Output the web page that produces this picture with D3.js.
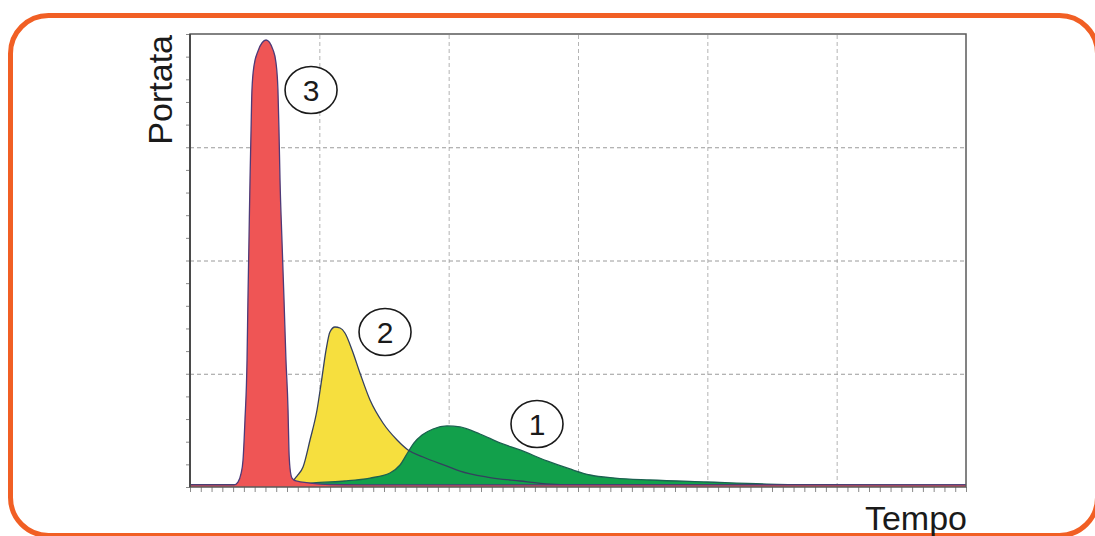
<!DOCTYPE html>
<html>
<head>
<meta charset="utf-8">
<script src="https://cdn.jsdelivr.net/npm/d3@7"></script>
<style>
  html, body { margin: 0; padding: 0; background: #fff; }
  svg { display: block; }
</style>
</head>
<body>
<svg id="chart" width="1095" height="536"></svg>
<script>
// Hydrographs: discharge (Portata) against time (Tempo) for three catchment responses.
// Time in grid units (0–6), discharge in grid units (0–4).
const curve3 = [
  [0, 0.018], [0.340, 0.018], [0.371, 0.044], [0.394, 0.115], [0.410, 0.238],
  [0.425, 0.592], [0.441, 1.121], [0.448, 1.651], [0.456, 2.181], [0.464, 2.711],
  [0.472, 3.152], [0.479, 3.506], [0.495, 3.720], [0.526, 3.850], [0.588, 3.947],
  [0.642, 3.860], [0.665, 3.745], [0.680, 3.506], [0.688, 3.152], [0.696, 2.711],
  [0.711, 2.181], [0.727, 1.651], [0.742, 1.121], [0.758, 0.680], [0.765, 0.327],
  [0.773, 0.168], [0.789, 0.079], [0.820, 0.053], [0.928, 0.035], [1.082, 0.022],
  [1.314, 0.018], [6, 0.018]
];

const curve2 = [
  [0, 0.018], [0.758, 0.018], [0.789, 0.044], [0.827, 0.097], [0.874, 0.177],
  [0.928, 0.415], [0.982, 0.680], [1.021, 0.971], [1.052, 1.210], [1.082, 1.369],
  [1.121, 1.413], [1.160, 1.404], [1.198, 1.360], [1.253, 1.210], [1.314, 1.007],
  [1.392, 0.768], [1.492, 0.565], [1.601, 0.415], [1.686, 0.327], [1.802, 0.265],
  [1.987, 0.185], [2.088, 0.141], [2.297, 0.088], [2.552, 0.053], [2.784, 0.026],
  [3.016, 0.018], [6, 0.018]
];

const curve1 = [
  [0, 0.018], [0.696, 0.018], [0.851, 0.026], [1.005, 0.040], [1.198, 0.053],
  [1.392, 0.079], [1.546, 0.124], [1.624, 0.194], [1.686, 0.309], [1.732, 0.389],
  [1.794, 0.459], [1.879, 0.512], [1.987, 0.539], [2.088, 0.530], [2.242, 0.468],
  [2.397, 0.389], [2.552, 0.327], [2.760, 0.230], [2.938, 0.159], [3.093, 0.106],
  [3.286, 0.079], [3.557, 0.062], [3.998, 0.044], [4.461, 0.026], [4.972, 0.018],
  [5.490, 0.013], [6, 0.009]
];

// Circled curve numbers, placed in data coordinates
const curveLabels = [
  { text: "3", t: 0.936, q: 3.506 },
  { text: "2", t: 1.508, q: 1.369 },
  { text: "1", t: 2.683, q: 0.556 }
];

const axisTitles = { x: "Tempo", y: "Portata" };

const xMajor = d3.range(0, 7, 1);
const yMajor = d3.range(0, 5, 1);
const xMinor = d3.range(0, 72 + 1).map(i => i / 12);
const yMinor = d3.range(0, 20 + 1).map(i => i / 5);

const svg = d3.select("#chart");
const W = 1095, H = 536;
const margin = { left: 190, right: W - 966, top: 34, bottom: H - 487 };
const iw = W - margin.left - margin.right;
const ih = H - margin.top - margin.bottom;

// Rounded orange frame around the whole figure
svg.append("rect")
  .attr("x", 10.5).attr("y", 15.5)
  .attr("width", 1087).attr("height", 520)
  .attr("rx", 38).attr("ry", 38)
  .attr("fill", "none")
  .attr("stroke", "#f15f24")
  .attr("stroke-width", 5);

const x = d3.scaleLinear().domain([0, 6]).range([0, iw]);
const y = d3.scaleLinear().domain([0, 4]).range([ih, 0]);

const g = svg.append("g").attr("transform", `translate(${margin.left},${margin.top})`);

// Dashed grid
g.append("g")
  .attr("transform", `translate(0,${ih})`)
  .call(d3.axisBottom(x).tickValues(xMajor.slice(1, -1)).tickSize(-ih).tickFormat(""))
  .call(s => s.select(".domain").remove())
  .call(s => s.selectAll("line").attr("stroke", "#b4b4b4").attr("stroke-dasharray", "4,3"));

g.append("g")
  .call(d3.axisLeft(y).tickValues(yMajor.slice(1, -1)).tickSize(-iw).tickFormat(""))
  .call(s => s.select(".domain").remove())
  .call(s => s.selectAll("line").attr("stroke", "#9a9a9a").attr("stroke-dasharray", "4,3"));

// Areas
const area = d3.area()
  .x(d => x(d[0]))
  .y0(y(0))
  .y1(d => y(d[1]))
  .curve(d3.curveMonotoneX);
const line = d3.line()
  .x(d => x(d[0]))
  .y(d => y(d[1]))
  .curve(d3.curveMonotoneX);

g.append("path").datum(curve2).attr("d", area).attr("fill", "#f6df3e");
g.append("path").datum(curve1).attr("d", area).attr("fill", "#12a04b");
g.append("path").datum(curve1).attr("d", line)
  .attr("fill", "none").attr("stroke", "#1c6150").attr("stroke-width", 1.3);
g.append("path").datum(curve2).attr("d", line)
  .attr("fill", "none").attr("stroke", "#34405e").attr("stroke-width", 1.3);
g.append("path").datum(curve3).attr("d", area).attr("fill", "#ef5555");
g.append("path").datum(curve3).attr("d", line)
  .attr("fill", "none").attr("stroke", "#4e3a78").attr("stroke-width", 1.3);

// Axes with minor ticks, no labels
g.append("g")
  .attr("transform", `translate(0,${ih})`)
  .call(d3.axisBottom(x).tickValues(xMinor).tickSize(5).tickFormat(""))
  .call(s => s.select(".domain").remove())
  .call(s => s.selectAll("line").attr("stroke", "#8a8a8a"));

g.append("g")
  .call(d3.axisLeft(y).tickValues(yMinor).tickSize(4).tickFormat(""))
  .call(s => s.select(".domain").remove())
  .call(s => s.selectAll("line").attr("stroke", "#8a8a8a"));

// Plot frame
g.append("rect")
  .attr("x", 0).attr("y", 0).attr("width", iw).attr("height", ih)
  .attr("fill", "none").attr("stroke", "#5a5a5a").attr("stroke-width", 1.5);
g.append("line")
  .attr("x1", 0).attr("x2", 0).attr("y1", 0).attr("y2", ih)
  .attr("stroke", "#4a4a4a").attr("stroke-width", 2);

// Circled numbers
const lab = g.selectAll(".curve-label").data(curveLabels).join("g")
  .attr("class", "curve-label")
  .attr("transform", d => `translate(${x(d.t)},${y(d.q)})`);
lab.append("ellipse")
  .attr("rx", 26).attr("ry", 23.5)
  .attr("fill", "#fff").attr("stroke", "#1a1a1a").attr("stroke-width", 1.6);
lab.append("text")
  .attr("text-anchor", "middle")
  .attr("dy", "0.36em")
  .attr("font-family", "Liberation Sans, Arial, sans-serif")
  .attr("font-size", 30)
  .attr("fill", "#1a1a1a")
  .text(d => d.text);

// Axis titles
svg.append("text")
  .attr("x", 967).attr("y", 530)
  .attr("text-anchor", "end")
  .attr("font-family", "Liberation Sans, Arial, sans-serif")
  .attr("font-size", 34)
  .attr("fill", "#1a1a1a")
  .text(axisTitles.x);

svg.append("text")
  .attr("transform", "translate(172,35) rotate(-90)")
  .attr("text-anchor", "end")
  .attr("font-family", "Liberation Sans, Arial, sans-serif")
  .attr("font-size", 34)
  .attr("fill", "#1a1a1a")
  .text(axisTitles.y);
</script>
</body>
</html>
